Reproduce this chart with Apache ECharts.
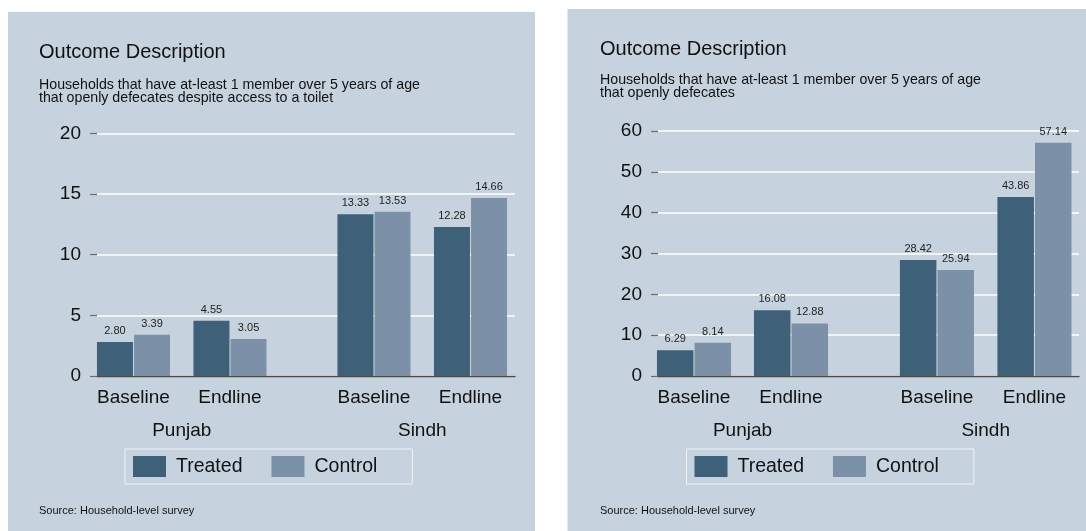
<!DOCTYPE html>
<html>
<head>
<meta charset="utf-8">
<script src="https://cdn.jsdelivr.net/npm/echarts@6/dist/echarts.min.js"></script>
<style>
  html, body { margin: 0; padding: 0; background: #ffffff; }
  #chart { width: 1086px; height: 531px; }
</style>
</head>
<body>
<div id="chart"></div>
<script>
// ---- data ----
const periods = ['Baseline', 'Endline'];
const provinces = ['Punjab', 'Sindh'];
const groupNames = ['Treated', 'Control'];

// Percent of households; order: Punjab baseline, Punjab endline, Sindh baseline, Sindh endline
const toiletTreated = [2.80, 4.55, 13.33, 12.28];
const toiletControl = [3.39, 3.05, 13.53, 14.66];
const openTreated = [6.29, 16.08, 28.42, 43.86];
const openControl = [8.14, 12.88, 25.94, 57.14];

// y-axis tick values
const toiletTicks = [0, 5, 10, 15, 20];
const openTicks = [0, 10, 20, 30, 40, 50, 60];

const titleText = 'Outcome Description';
const toiletSubtitle = 'Households that have at-least 1 member over 5 years of age\nthat openly defecates despite access to a toilet';
const openSubtitle = 'Households that have at-least 1 member over 5 years of age\nthat openly defecates';
const sourceText = 'Source: Household-level survey';

// ---- styling ----
const FONT = '"Liberation Sans", Arial, Helvetica, sans-serif';
const PANEL_BG = '#c6d3df';
const TREATED = '#3e6079';
const CONTROL = '#7c91a8';
const INK = '#111111';

// ---- panel layout (pixels) ----
const panels = [
  {
    bg: { x: 8, y: 12, w: 527, h: 530 },
    textLeft: 39, titleTop: 42, subTop: 79, sourceTop: 505,
    plot: { left: 97, right: 515, top: 133.3, bottom: 376 },
    groups: [ { left: 85.25, width: 193 }, { left: 325.75, width: 193 } ],
    barWidth: 36,
    legendLeft: 125, legendTop: 449,
    ticks: toiletTicks, treated: toiletTreated, control: toiletControl,
    subtitle: toiletSubtitle
  },
  {
    bg: { x: 567.5, y: 9, w: 530, h: 530 },
    textLeft: 600, titleTop: 39, subTop: 74, sourceTop: 505,
    plot: { left: 658, right: 1079, top: 131, bottom: 376 },
    groups: [ { left: 645.5, width: 194 }, { left: 888.2, width: 195 } ],
    barWidth: 36.5,
    legendLeft: 686.5, legendTop: 449,
    ticks: openTicks, treated: openTreated, control: openControl,
    subtitle: openSubtitle
  }
];

const option = {
  animation: false,
  backgroundColor: '#ffffff',
  textStyle: { fontFamily: FONT },
  title: [], grid: [], xAxis: [], yAxis: [], series: [], legend: [],
  graphic: { elements: [] }
};

const valueLabel = {
  show: true,
  position: 'top',
  distance: 5,
  fontSize: 11,
  lineHeight: 12,
  color: '#222222',
  fontFamily: FONT,
  formatter: (p) => p.value.toFixed(2)
};

panels.forEach((p) => {
  const yMin = p.ticks[0];
  const yMax = p.ticks[p.ticks.length - 1];
  const yStep = p.ticks[1] - p.ticks[0];
  const plotH = p.plot.bottom - p.plot.top;

  // panel background
  option.graphic.elements.push({
    type: 'rect', z: -100, silent: true,
    shape: { x: p.bg.x, y: p.bg.y, width: p.bg.w, height: p.bg.h },
    style: { fill: PANEL_BG }
  });

  // titles and note
  option.title.push(
    { text: titleText, left: p.textLeft, top: p.titleTop, padding: 0,
      textStyle: { fontFamily: FONT, fontSize: 20, fontWeight: 'normal', color: INK } },
    { text: p.subtitle, left: p.textLeft, top: p.subTop, padding: 0,
      textStyle: { fontFamily: FONT, fontSize: 14.2, lineHeight: 13, fontWeight: 'normal', color: INK } },
    { text: sourceText, left: p.textLeft, top: p.sourceTop, padding: 0,
      textStyle: { fontFamily: FONT, fontSize: 11, fontWeight: 'normal', color: INK } }
  );

  // main plot region: y axis, grid lines, zero line
  const mainIdx = option.grid.length;
  option.grid.push({ left: p.plot.left, top: p.plot.top, width: p.plot.right - p.plot.left, height: plotH });
  option.xAxis.push({
    gridIndex: mainIdx, type: 'value', min: 0, max: 1,
    axisLine: { show: true, onZero: false, lineStyle: { color: '#4a4a4a', width: 1.3 } },
    axisTick: { show: false }, axisLabel: { show: false }, splitLine: { show: false }
  });
  option.yAxis.push({
    gridIndex: mainIdx, type: 'value', min: yMin, max: yMax, interval: yStep,
    axisLine: { show: false },
    axisTick: { show: true, length: 7, lineStyle: { color: '#6a6a6a', width: 1.2 } },
    axisLabel: { margin: 16, fontSize: 19, color: INK, fontFamily: FONT },
    splitLine: { show: true, lineStyle: { color: '#ffffff', width: 1.5 } }
  });

  // one category sub-axis per province, so the gap between provinces is wider
  provinces.forEach((prov, k) => {
    const g = p.groups[k];
    const idx = option.grid.length;
    option.grid.push({ left: g.left, top: p.plot.top, width: g.width, height: plotH });
    option.xAxis.push({
      gridIndex: idx, type: 'category', data: periods,
      axisLine: { show: false }, axisTick: { show: false },
      axisLabel: { margin: 12, fontSize: 19, color: INK, fontFamily: FONT },
      name: prov, nameLocation: 'middle', nameGap: 45,
      nameTextStyle: { fontSize: 19, color: INK, fontFamily: FONT }
    });
    option.yAxis.push({ gridIndex: idx, type: 'value', min: yMin, max: yMax, interval: yStep, show: false });

    option.series.push(
      { type: 'bar', name: groupNames[0], xAxisIndex: idx, yAxisIndex: idx,
        data: p.treated.slice(2 * k, 2 * k + 2),
        barWidth: p.barWidth, barGap: '3%',
        itemStyle: { color: TREATED }, label: valueLabel },
      { type: 'bar', name: groupNames[1], xAxisIndex: idx, yAxisIndex: idx,
        data: p.control.slice(2 * k, 2 * k + 2),
        barWidth: p.barWidth, barGap: '3%',
        itemStyle: { color: CONTROL }, label: valueLabel }
    );
  });

  option.legend.push({
    data: groupNames, left: p.legendLeft, top: p.legendTop, orient: 'horizontal',
    icon: 'rect', itemWidth: 33, itemHeight: 21, itemGap: 29,
    padding: [7, 35, 7, 8], selectedMode: false,
    borderColor: '#eef2f6', borderWidth: 1,
    textStyle: { fontSize: 19.5, color: INK, fontFamily: FONT, padding: [0, 0, 0, 5] }
  });
});

const chart = echarts.init(document.getElementById('chart'), null, { renderer: 'canvas' });
chart.setOption(option);
</script>
</body>
</html>
